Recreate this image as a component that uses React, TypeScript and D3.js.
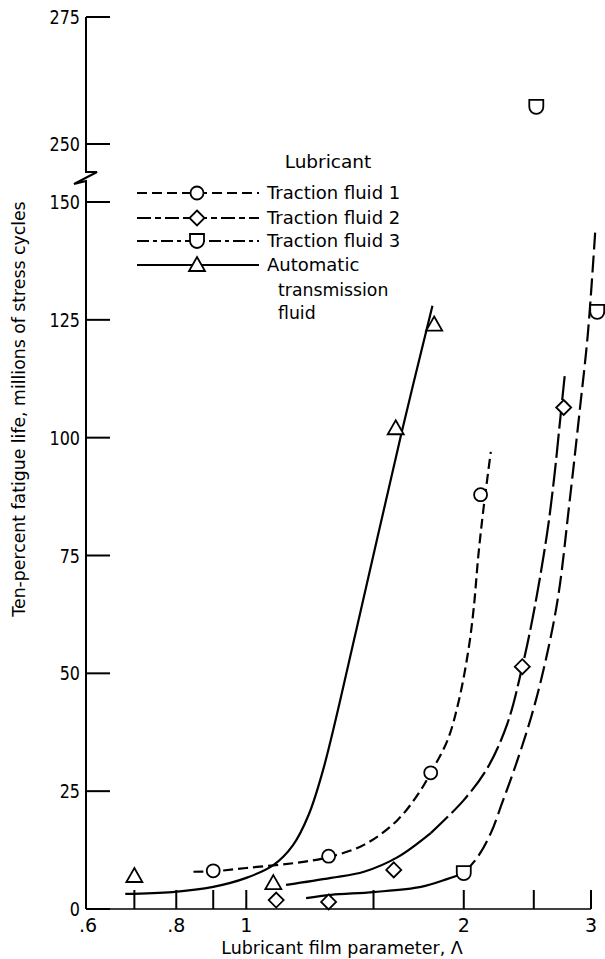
import React from 'react';
import * as d3 from 'd3';

const FONT = "'DejaVu Sans', sans-serif";

// Axis ticks
const xTickValues = [0.7, 0.8, 0.9, 1, 1.5, 2, 2.5, 3];
const xLabelValues = [0.6, 0.8, 1, 2, 3];
const xLabelTexts = ['.6', '.8', '1', '2', '3'];
const yLowTicks = [0, 25, 50, 75, 100, 125, 150];
const yHighTicks = [250, 275];

// Data points (lubricant film parameter, fatigue life in millions of cycles)
const fluid1Points = [[0.9, 8.1], [1.3, 11.2], [1.8, 28.9], [2.11, 87.9]];
const fluid2Points = [[1.1, 1.9], [1.3, 1.5], [1.6, 8.3], [2.41, 51.4], [2.75, 106.4]];
const fluid3Points = [[2.0, 7.6], [3.06, 126.7], [2.52, 257.3]];
const atfPoints = [[0.7, 7.0], [1.09, 5.5], [1.61, 102], [1.82, 124]];

// Faired curves
const fluid1Curve = [[0.845, 7.9], [0.9, 8.0], [1.0, 8.7], [1.2, 10.0], [1.3, 11.0], [1.455, 13.6], [1.62, 18.9], [1.745, 25.3], [1.8, 28.9], [1.9, 35.9], [1.97, 44.4], [2.03, 55], [2.065, 64], [2.095, 75], [2.13, 85], [2.18, 97]];
const fluid2Curve = [[1.135, 5.1], [1.31, 6.6], [1.455, 7.9], [1.62, 11.0], [1.8, 16.1], [2.0, 23.1], [2.16, 30.1], [2.3, 39.5], [2.41, 51.4], [2.5, 63], [2.61, 80], [2.67, 92], [2.72, 104], [2.76, 113.4]];
const fluid3Curve = [[1.21, 2.3], [1.31, 3.0], [1.5, 3.6], [1.745, 4.7], [1.9, 6.4], [2.0, 7.6], [2.09, 11.0], [2.18, 16.1], [2.26, 22.5], [2.36, 30.5], [2.48, 40.8], [2.59, 52], [2.7, 66], [2.8, 86], [2.9, 107], [2.97, 122], [3.04, 143.5]];
const atfCurve = [[0.68, 3.2], [0.79, 3.6], [0.9, 4.7], [1.0, 6.6], [1.09, 9.3], [1.16, 13.5], [1.22, 20], [1.28, 30], [1.42, 59.2], [1.64, 101], [1.81, 128]];

const seriesNames = ['Traction fluid 1', 'Traction fluid 2', 'Traction fluid 3', 'Automatic'];
const seriesMarkers = ['circle', 'diamond', 'shield', 'triangle'];
const seriesDashes = ['10,5', '24,5', '17,6', null];
const seriesSolidUntil = [null, 1.8, 2.0, null];
const seriesPoints = [fluid1Points, fluid2Points, fluid3Points, atfPoints];
const seriesCurves = [fluid1Curve, fluid2Curve, fluid3Curve, atfCurve];
const legendDashes = ['10,5', '14,4,6,4', '12,4,4,4', null];

const W = 605;
const H = 959;

const x = d3.scaleLog().domain([0.6, 3]).range([86, 591]);
const yLow = d3.scaleLinear().domain([0, 150]).range([909, 202]);
const yHigh = d3.scaleLinear().domain([250, 275]).range([144, 17]);
const y = (v: number) => (v > 200 ? yHigh(v) : yLow(v));

const line = d3
  .line<number[]>()
  .x((d) => x(d[0]))
  .y((d) => y(d[1]))
  .curve(d3.curveCatmullRom.alpha(0.5));

function Marker({ type, cx, cy }: { type: string; cx: number; cy: number }) {
  const common = { fill: 'white', stroke: 'black', strokeWidth: 1.8 };
  if (type === 'circle') return <circle cx={cx} cy={cy} r={6.5} {...common} />;
  if (type === 'diamond')
    return <path d={`M${cx},${cy - 7.5}L${cx + 7.5},${cy}L${cx},${cy + 7.5}L${cx - 7.5},${cy}Z`} {...common} />;
  if (type === 'triangle')
    return <path d={`M${cx},${cy - 8}L${cx + 8},${cy + 6}L${cx - 8},${cy + 6}Z`} {...common} />;
  // shield: flat top, rounded bottom
  return <path d={`M${cx - 7},${cy - 7}H${cx + 7}V${cy}A7,7 0 0 1 ${cx - 7},${cy}Z`} {...common} />;
}

export default function App() {
  const x0 = x(0.6);
  const axisY = yLow(0);
  const breakTop = yLow(150) - 30;
  const axisPath = `M${x0},${yHigh(275)}V${breakTop}L${x0 + 11},${breakTop}L${x0 - 12},${breakTop + 12}L${x0},${breakTop + 9}V${axisY}`;

  const legendX0 = 137;
  const legendX1 = 259;
  const legendMx = 197;
  const legendRows = [193, 218, 241, 265];

  const yLabel = (t: number, yy: number) => (
    <text transform={`translate(80,${yy}) scale(0.82,1)`} dy="0.36em" textAnchor="end" fontSize={19.5}>{t}</text>
  );

  return (
    <svg width={W} height={H} style={{ position: 'absolute', left: 0, top: 0, background: 'white' }} fontFamily={FONT}>
      <rect x={0} y={0} width={W} height={H} fill="white" />
      {/* y axis */}
      <path d={axisPath} fill="none" stroke="black" strokeWidth={2} />
      {yLowTicks.map((t) => (
        <g key={'yl' + t}>
          <line x1={x0} x2={x0 + 24} y1={yLow(t)} y2={yLow(t)} stroke="black" strokeWidth={2} />
          {yLabel(t, yLow(t))}
        </g>
      ))}
      {yHighTicks.map((t) => (
        <g key={'yh' + t}>
          <line x1={x0} x2={x0 + 24} y1={yHigh(t)} y2={yHigh(t)} stroke="black" strokeWidth={2} />
          {yLabel(t, yHigh(t))}
        </g>
      ))}
      <text transform={`translate(25,${409}) rotate(-90)`} textAnchor="middle" fontSize={17.3}>
        Ten-percent fatigue life, millions of stress cycles
      </text>

      {/* x axis */}
      <line x1={x0} x2={x(3)} y1={axisY} y2={axisY} stroke="black" strokeWidth={1.5} />
      {xTickValues.map((t) => (
        <line key={'xt' + t} x1={x(t)} x2={x(t)} y1={axisY} y2={axisY - 19} stroke="black" strokeWidth={2} />
      ))}
      {xLabelValues.map((t, i) => (
        <text key={'xl' + t} x={x(t) + (i === 0 ? 2 : 0)} y={932} textAnchor="middle" fontSize={19}>{xLabelTexts[i]}</text>
      ))}
      <text x={342} y={954} textAnchor="middle" fontSize={17.5}>Lubricant film parameter, Λ</text>

      {/* curves */}
      {seriesCurves.map((c, i) => {
        const split = seriesSolidUntil[i];
        if (split == null) {
          return (
            <path key={'c' + i} d={line(c) || ''} fill="none" stroke="black" strokeWidth={2.2}
              strokeDasharray={seriesDashes[i] || undefined} />
          );
        }
        const lower = c.filter((d) => d[0] <= split);
        const upper = c.filter((d) => d[0] >= split);
        return (
          <g key={'c' + i}>
            <path d={line(lower) || ''} fill="none" stroke="black" strokeWidth={2.2} />
            <path d={line(upper) || ''} fill="none" stroke="black" strokeWidth={2.2} strokeDasharray={seriesDashes[i] || undefined} />
          </g>
        );
      })}

      {/* markers */}
      {seriesPoints.map((pts, i) =>
        pts.map((p, j) => <Marker key={`m${i}-${j}`} type={seriesMarkers[i]} cx={x(p[0])} cy={y(p[1])} />)
      )}

      {/* legend */}
      <text x={328} y={168} textAnchor="middle" fontSize={18.5}>Lubricant</text>
      {seriesNames.map((name, i) => (
        <g key={'lg' + i}>
          <line x1={legendX0} x2={legendX1} y1={legendRows[i]} y2={legendRows[i]} stroke="black" strokeWidth={2.2}
            strokeDasharray={legendDashes[i] || undefined} />
          <Marker type={seriesMarkers[i]} cx={legendMx} cy={legendRows[i]} />
          <text x={267} y={legendRows[i]} dy="0.36em" fontSize={18}>{name}</text>
        </g>
      ))}
      <text x={278} y={290} dy="0.36em" fontSize={17.3}>transmission</text>
      <text x={278} y={313} dy="0.36em" fontSize={17.3}>fluid</text>
    </svg>
  );
}
